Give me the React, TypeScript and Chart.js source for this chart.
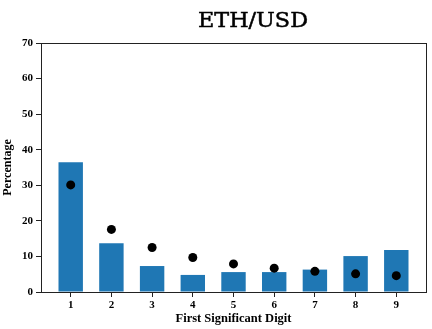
import React, { useEffect, useRef } from "react";
import { Chart, registerables } from "chart.js";

Chart.register(...registerables);

// First significant digits and their observed share (%) for ETH/USD
const digits = [1, 2, 3, 4, 5, 6, 7, 8, 9];
const observed = [36.5, 13.7, 7.3, 4.8, 5.6, 5.6, 6.3, 10.1, 11.8];
// Benford's law expected share (%)
const benford = [30.1, 17.6, 12.5, 9.7, 7.9, 6.7, 5.8, 5.1, 4.6];
const yTicks = [0, 10, 20, 30, 40, 50, 60, 70];

const titleText = "ETH/USD";
const xTitle = "First Significant Digit";
const yTitle = "Percentage";

const AXIS_COLOR = "#222";
const BAR_COLOR = "#1f77b4";

const framePlugin = {
  id: "frame",
  afterDraw(chart: any) {
    const { ctx, chartArea } = chart;
    ctx.save();
    ctx.strokeStyle = AXIS_COLOR;
    ctx.lineWidth = 1;
    ctx.strokeRect(
      Math.round(chartArea.left) + 0.5,
      Math.round(chartArea.top) + 0.5,
      Math.round(chartArea.right - chartArea.left),
      Math.round(chartArea.bottom - chartArea.top)
    );
    ctx.restore();
  },
};

const titlePlugin = {
  id: "topTitle",
  afterDraw(chart: any) {
    const { ctx } = chart;
    ctx.save();
    ctx.fillStyle = "#000";
    ctx.font = "20px 'DejaVu Serif'";
    ctx.textAlign = "center";
    ctx.textBaseline = "alphabetic";
    // stretch the heading to its 110px span, centred at x=253
    const w = ctx.measureText(titleText).width;
    ctx.translate(253, 27);
    ctx.scale(110 / w, 1);
    ctx.fillText(titleText, 0, 0);
    ctx.lineWidth = 0.5;
    ctx.strokeStyle = "#000";
    ctx.strokeText(titleText, 0, 0);
    ctx.restore();
  },
};

export default function App() {
  const ref = useRef<HTMLCanvasElement | null>(null);

  useEffect(() => {
    document.body.style.margin = "0";
    const canvas = ref.current;
    if (!canvas) return;
    const tickFont = { family: "'Liberation Serif'", size: 11, weight: "bold" as const };
    const chart = new Chart(canvas, {
      type: "bar",
      data: {
        datasets: [
          {
            type: "bar",
            label: "Observed",
            data: digits.map((d, i) => ({ x: d, y: observed[i] })),
            backgroundColor: BAR_COLOR,
            borderWidth: 0,
            barPercentage: 0.6,
            categoryPercentage: 1,
            order: 2,
          },
          {
            type: "scatter",
            label: "Benford",
            data: digits.map((d, i) => ({ x: d, y: benford[i] })),
            backgroundColor: "#000",
            borderColor: "#000",
            borderWidth: 0,
            pointRadius: 4.5,
            order: 1,
          } as any,
        ],
      },
      options: {
        responsive: false,
        animation: false,
        devicePixelRatio: 1,
        layout: { padding: { top: 43, right: 6, left: 0, bottom: 0 } },
        plugins: {
          legend: { display: false },
          tooltip: { enabled: false },
          title: { display: false },
        },
        scales: {
          x: {
            type: "linear",
            offset: false,
            min: 0.27,
            max: 9.73,
            afterBuildTicks: (s: any) => {
              s.ticks = digits.map((d) => ({ value: d }));
            },
            afterFit: (s: any) => {
              s.height = 37;
            },
            grid: {
              offset: false,
              drawOnChartArea: false,
              drawTicks: true,
              tickLength: 5,
              color: AXIS_COLOR,
            },
            border: { display: true, color: AXIS_COLOR },
            ticks: {
              color: "#000",
              font: tickFont,
              padding: 2,
              maxRotation: 0,
              autoSkip: false,
              callback: (v: any) => String(v),
            },
            title: {
              display: true,
              text: xTitle,
              color: "#000",
              font: { family: "'Liberation Serif'", size: 12.5, weight: "bold" },
              padding: { top: 0, bottom: 3 },
            },
          },
          y: {
            min: 0,
            max: 70,
            afterBuildTicks: (s: any) => {
              s.ticks = yTicks.map((v) => ({ value: v }));
            },
            afterFit: (s: any) => {
              s.width = 41;
            },
            grid: {
              drawOnChartArea: false,
              drawTicks: true,
              tickLength: 5,
              color: AXIS_COLOR,
            },
            border: { display: true, color: AXIS_COLOR },
            ticks: {
              color: "#000",
              font: tickFont,
              padding: 3,
            },
            title: {
              display: true,
              text: yTitle,
              color: "#000",
              font: { family: "'Liberation Serif'", size: 12, weight: "bold" },
              padding: { top: 1, bottom: 0 },
            },
          },
        },
      },
      plugins: [framePlugin, titlePlugin],
    });
    return () => chart.destroy();
  }, []);

  return <canvas ref={ref} width={432} height={329} style={{ display: "block" }} />;
}
